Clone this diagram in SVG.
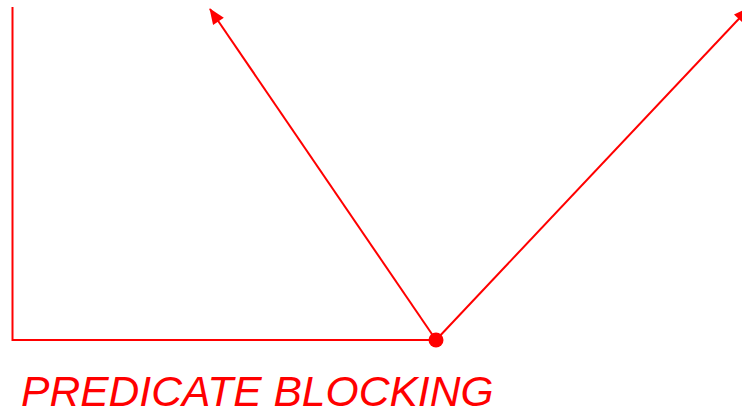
<svg xmlns="http://www.w3.org/2000/svg" width="742" height="414" viewBox="0 0 742 414">
<style>
.ln{stroke:#ff0000;stroke-width:2;fill:none}
.lbl{font-family:"Liberation Sans",Arial,sans-serif;font-style:italic;font-size:42.6px;fill:#ff0000}
</style>
<defs>
<marker id="ah" viewBox="0 -7 16 14" refX="15" refY="0" markerWidth="16" markerHeight="14" markerUnits="userSpaceOnUse" orient="auto" style="overflow:visible">
<path d="M0,-6.5 L16,0 L0,6.5 z" fill="#ff0000"/>
</marker>
</defs>
<g id="connectors">
<polyline class="ln" points="12.5,7 12.5,340 436,340"/>
<line class="ln" x1="436" y1="340" x2="210" y2="9" marker-end="url(#ah)"/>
<line class="ln" x1="436" y1="340" x2="749" y2="8" marker-end="url(#ah)"/>
</g>
<g id="node-dot">
<circle cx="436" cy="340" r="7.5" fill="#ff0000"/>
</g>
<g id="label">
<text class="lbl" x="21" y="406">PREDICATE BLOCKING</text>
</g>
</svg>
